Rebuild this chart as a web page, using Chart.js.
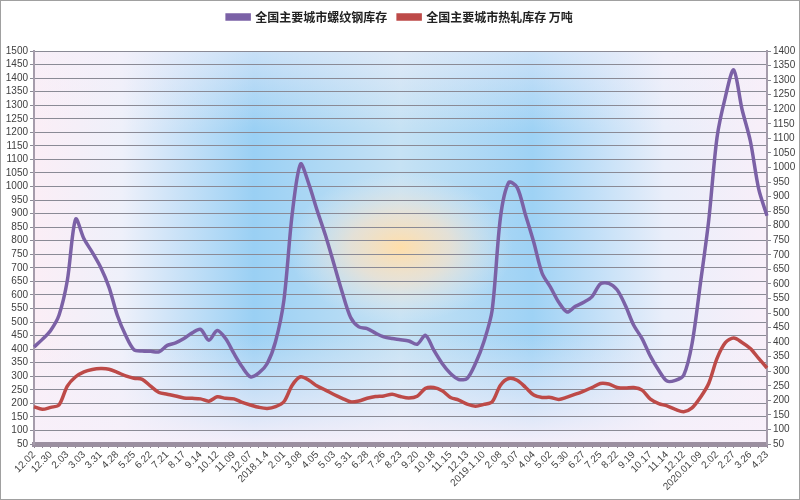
<!DOCTYPE html>
<html>
<head>
<meta charset="utf-8">
<script src="https://cdn.jsdelivr.net/npm/chart.js@4/dist/chart.umd.min.js"></script>
<style>
  html, body { margin: 0; padding: 0; background: #fff; }
  #wrap { width: 800px; height: 500px; }
</style>
</head>
<body>
<div id="wrap"><canvas id="myChart" width="800" height="500"></canvas></div>
<script>
// tick labels, one every 4 weeks (data is read at 2 points per tick)
const tickLabels = ['12.02', '12.30', '2.03', '3.03', '3.31', '4.28', '5.25', '6.22', '7.21', '8.17',
  '9.14', '10.12', '11.09', '12.07', '2018.1.4', '2.01', '3.08', '4.05', '5.03', '5.31',
  '6.28', '7.26', '8.23', '9.20', '10.18', '11.15', '12.13', '2019.1.10', '2.08', '3.07',
  '4.04', '5.02', '5.30', '6.27', '7.25', '8.22', '9.19', '10.17', '11.14', '12.12',
  '2020.01.09', '2.02', '2.27', '3.26', '4.23'];

const rebarName = '全国主要城市螺纹钢库存';
const hotRollName = '全国主要城市热轧库存 万吨';

// 螺纹钢库存 (left axis)
const rebar = [408, 436, 469, 525, 653, 880, 807, 757, 702, 629,
  525, 451, 398, 393, 392, 390, 414, 423, 439, 460,
  473, 433, 469, 439, 384, 334, 298, 312, 347, 428,
  580, 899, 1083, 1009, 911, 819, 715, 610, 518, 482,
  476, 459, 445, 439, 435, 430, 418, 451, 396, 347,
  310, 288, 292, 347, 426, 543, 886, 1015, 997, 896,
  794, 680, 629, 573, 537, 558, 573, 594, 641, 643,
  619, 561, 488, 439, 374, 322, 282, 285, 304, 420,
  641, 874, 1181, 1330, 1430, 1285, 1168, 991, 892];

// 热轧库存 (right axis)
const hotRoll = [178, 169, 176, 184, 249, 281, 298, 306, 309, 307,
  296, 284, 276, 272, 249, 227, 221, 215, 208, 207,
  205, 197, 212, 207, 205, 193, 184, 176, 172, 178,
  195, 252, 281, 269, 249, 235, 220, 207, 195, 198,
  207, 213, 215, 221, 213, 208, 214, 241, 244, 233,
  210, 201, 187, 180, 186, 195, 252, 275, 269, 245,
  218, 210, 210, 203, 211, 221, 232, 244, 258, 256,
  244, 242, 244, 235, 204, 189, 181, 169, 161, 174,
  210, 258, 344, 398, 414, 399, 378, 344, 311];

var categories = rebar.map(function(d, i) {
  return i % 2 === 0 ? tickLabels[i / 2] : '';
});

const tickFont = { family: 'Liberation Sans', size: 10 };

// soft blue / orange backdrop like the excel theme
const plotBackground = {
  id: 'plotBackground',
  beforeLayout(chart) {
    // leave a gap under the legend
    const legend = chart.legend;
    if (legend && !legend._gapPatched) {
      const fit = legend.fit;
      legend.fit = function() {
        fit.call(this);
        this.height += 18;
      };
      legend._gapPatched = true;
    }
  },
  beforeDraw(chart) {
    const { ctx, chartArea: a } = chart;
    const w = a.right - a.left, h = a.bottom - a.top;
    ctx.save();
    let g = ctx.createLinearGradient(a.left, 0, a.right, 0);
    g.addColorStop(0, '#fbeef6');
    g.addColorStop(0.12, '#eef0fa');
    g.addColorStop(0.3, '#9ad0f4');
    g.addColorStop(0.5, '#c6e2f4');
    g.addColorStop(0.68, '#9ed2f5');
    g.addColorStop(0.86, '#e9eefa');
    g.addColorStop(1, '#f8eff9');
    ctx.fillStyle = g;
    ctx.fillRect(a.left, a.top, w, h);

    g = ctx.createLinearGradient(0, a.top, 0, a.bottom);
    g.addColorStop(0, 'rgba(246,240,250,0.5)');
    g.addColorStop(0.2, 'rgba(246,240,250,0)');
    g.addColorStop(0.72, 'rgba(246,240,250,0)');
    g.addColorStop(1, 'rgba(248,240,250,0.95)');
    ctx.fillStyle = g;
    ctx.fillRect(a.left, a.top, w, h);

    const cx = a.left + w * 0.5, cy = a.top + h * 0.5;
    ctx.translate(cx, cy);
    ctx.scale(1.5, 1);
    g = ctx.createRadialGradient(0, 0, 0, 0, 0, 75);
    g.addColorStop(0, 'rgba(255,222,170,1)');
    g.addColorStop(0.45, 'rgba(242,226,205,0.75)');
    g.addColorStop(1, 'rgba(225,235,245,0)');
    ctx.fillStyle = g;
    ctx.fillRect(-100, -80, 200, 160);
    ctx.restore();
  },
  afterDraw(chart) {
    const ctx = chart.ctx;
    ctx.save();
    ctx.strokeStyle = '#a0a0a0';
    ctx.lineWidth = 1;
    ctx.strokeRect(0.5, 0.5, chart.width - 1, chart.height - 1);
    ctx.restore();
  }
};

new Chart(document.getElementById('myChart'), {
  type: 'line',
  data: {
    labels: categories,
    datasets: [
      {
        label: rebarName,
        data: rebar,
        yAxisID: 'y',
        borderColor: '#7b61a6',
        backgroundColor: '#7b61a6',
        borderWidth: 3.5,
        pointRadius: 0,
        tension: 0.3
      },
      {
        label: hotRollName,
        data: hotRoll,
        yAxisID: 'y1',
        borderColor: '#bd4a48',
        backgroundColor: '#bd4a48',
        borderWidth: 3.5,
        pointRadius: 0,
        tension: 0.3
      }
    ]
  },
  plugins: [plotBackground],
  options: {
    responsive: false,
    animation: false,
    devicePixelRatio: 1,
    layout: { padding: { top: 0, left: 0, right: 0, bottom: 0 } },
    plugins: {
      tooltip: { enabled: false },
      legend: {
        position: 'top',
        labels: {
          boxWidth: 22,
          boxHeight: 4,
          padding: 11,
          color: '#222',
          font: { family: 'Noto Sans CJK SC', size: 12, weight: 'bold' }
        }
      }
    },
    scales: {
      x: {
        offset: false,
        grid: { drawOnChartArea: false, drawTicks: true, tickLength: 4, color: '#8d8492' },
        border: { display: true, color: '#9b8fa0', width: 5 },
        ticks: {
          autoSkip: false,
          minRotation: 45,
          maxRotation: 45,
          padding: 1,
          color: '#444',
          font: tickFont
        },
        afterFit: function(scale) { scale.height = 56; }
      },
      y: {
        position: 'left',
        min: 50,
        max: 1500,
        grid: { color: '#8a8a95', tickLength: 4 },
        border: { color: '#a59cab', width: 2 },
        ticks: {
          stepSize: 50, maxTicksLimit: 40, autoSkip: false, padding: 2, color: '#404040', font: tickFont,
          callback: function(v) { return v; }
        },
        afterFit: function(scale) { scale.width = 34; }
      },
      y1: {
        position: 'right',
        min: 50,
        max: 1400,
        grid: { drawOnChartArea: false, tickLength: 4, color: '#8a8a95' },
        border: { color: '#a59cab', width: 2 },
        ticks: {
          stepSize: 50, maxTicksLimit: 40, autoSkip: false, padding: 2, color: '#404040', font: tickFont,
          callback: function(v) { return v; }
        },
        afterFit: function(scale) { scale.width = 33; }
      }
    }
  }
});
</script>
</body>
</html>
